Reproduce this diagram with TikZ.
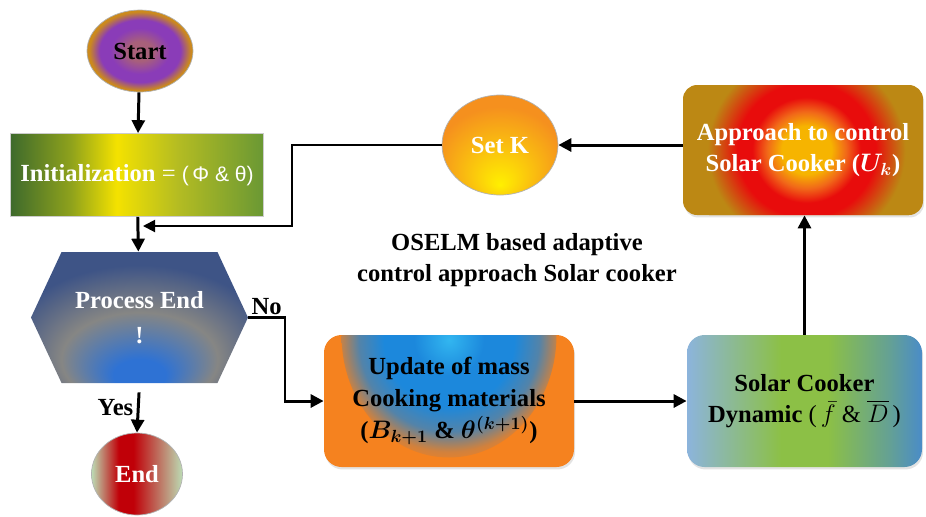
\documentclass[tikz,border=0pt]{standalone}
\usepackage{amsmath,bm}
\usepackage{fontspec}
\setmainfont{Liberation Serif}
\newfontfamily\grsans{Liberation Sans}
\usepackage{tikz}
\usetikzlibrary{arrows.meta,positioning,calc,shapes.geometric,shapes.symbols,shadows}

\definecolor{stmid}{HTML}{A8607A}
\definecolor{string}{HTML}{8A3CB8}
\definecolor{stout}{HTML}{CC8A1C}
\definecolor{gdark}{HTML}{3E6A2C}
\definecolor{gmid}{HTML}{8FA21C}
\definecolor{gyel}{HTML}{F4E200}
\definecolor{glite}{HTML}{B4BC22}
\definecolor{gright}{HTML}{6A9834}
\definecolor{hxblue}{HTML}{2E72D4}
\definecolor{hxgray}{HTML}{868684}
\definecolor{hxslate}{HTML}{3E5486}
\definecolor{endgreen}{HTML}{BCDCB4}
\definecolor{endred}{HTML}{C00008}
\definecolor{kyel}{HTML}{FFF000}
\definecolor{korange}{HTML}{F5901E}
\definecolor{apgold}{HTML}{BC8814}
\definecolor{apred}{HTML}{E80C0C}
\definecolor{apcore}{HTML}{F6B400}
\definecolor{updor}{HTML}{F5821F}
\definecolor{updblue}{HTML}{1C88DC}
\definecolor{updcyan}{HTML}{32B6F0}
\definecolor{dynblue}{HTML}{8CB4DC}
\definecolor{dyngreen}{HTML}{8CC046}
\definecolor{dynteal}{HTML}{4A8CC8}

% radial shadings: path edge sits at 25bp
\pgfdeclareradialshading{startshade}{\pgfpointorigin}{%
  color(0bp)=(stmid); color(6bp)=(stmid); color(14bp)=(string);
  color(19bp)=(string); color(24bp)=(stout); color(50bp)=(stout)}
\pgfdeclarehorizontalshading{initshade}{100bp}{%
  color(0bp)=(gdark); color(25bp)=(gdark); color(37bp)=(gmid);
  color(46bp)=(gyel); color(58bp)=(glite); color(75bp)=(gright);
  color(100bp)=(gright)}
\pgfdeclareradialshading{hexshade}{\pgfpoint{0bp}{-25bp}}{%
  color(0bp)=(hxblue); color(6bp)=(hxblue); color(18bp)=(hxgray);
  color(30bp)=(hxslate); color(50bp)=(hxslate)}
\pgfdeclarehorizontalshading{endshade}{100bp}{%
  color(0bp)=(endgreen); color(25bp)=(endgreen); color(40bp)=(endred);
  color(48bp)=(endred); color(75bp)=(endgreen); color(100bp)=(endgreen)}
\pgfdeclareradialshading{setkshade}{\pgfpoint{0bp}{-20bp}}{%
  color(0bp)=(kyel); color(11bp)=(kyel!60!korange); color(28bp)=(korange);
  color(50bp)=(korange)}
\pgfdeclareradialshading{apshade}{\pgfpointorigin}{%
  color(0bp)=(apcore); color(5bp)=(apcore); color(8bp)=(korange!70!apred);
  color(11bp)=(apred); color(14bp)=(apred); color(20bp)=(apgold);
  color(50bp)=(apgold)}
\pgfdeclareradialshading{updshade}{\pgfpointorigin}{%
  color(0bp)=(updcyan); color(7bp)=(updblue); color(13bp)=(updblue);
  color(18bp)=(updblue!45!gray); color(22bp)=(updor!70!gray);
  color(25bp)=(updor); color(50bp)=(updor)}
\pgfdeclarehorizontalshading{dynshade}{100bp}{%
  color(0bp)=(dynblue); color(25bp)=(dynblue); color(45bp)=(dyngreen);
  color(55bp)=(dyngreen); color(68bp)=(dynteal!60!dyngreen);
  color(75bp)=(dynteal); color(100bp)=(dynteal)}

\begin{document}
\begin{tikzpicture}[
  txt/.style={font=\fontsize{14}{18}\selectfont\bfseries, align=center},
  oval/.style={txt, ellipse, draw=gray!60, thin, inner sep=0pt},
  box/.style={txt, rounded corners=8pt, inner sep=0pt,
    drop shadow={opacity=0.22, shadow xshift=0.6pt, shadow yshift=-1.4pt}},
  arr/.style={-{Triangle[length=2.6mm,width=2.6mm]}, line width=1.7pt},
  fb/.style={-{Triangle[length=2.4mm,width=2.4mm]}, line width=1.1pt},
  lab/.style={txt, inner sep=1pt}
]
  \useasboundingbox (0,0) rectangle (18.52,-10.32);

  % left column
  \node[oval, shading=startshade, minimum width=2.12cm, minimum height=1.64cm]
    (start) at (2.80,-1.02) {Start};
  \node[txt, shading=initshade, text=white, draw=gray!40, thin,
    minimum width=5.06cm, minimum height=1.66cm]
    (init) at (2.74,-3.50)
    {Initialization {\mdseries =} {\grsans\mdseries\large (\,Φ \& θ)}};
  \node[txt, shape=signal, signal to=west and east, signal pointer angle=130,
    shading=hexshade, text=white, minimum width=4.34cm, minimum height=2.62cm,
    inner sep=0pt]
    (hex) at (2.79,-6.35) {Process End\\[2pt]!};
  \node[oval, shading=endshade, text=white, minimum width=1.82cm, minimum height=1.64cm]
    (end) at (2.74,-9.48) {End};

  % right part
  \node[oval, shading=setkshade, text=white, minimum width=2.32cm, minimum height=2.0cm]
    (setk) at (10.0,-2.90) {Set K};
  \node[box, fill=apgold, text=white, minimum width=4.80cm, minimum height=2.60cm,
    path picture={\shade[shading=apshade]
      ($(path picture bounding box.center)+(0.14,0)$) circle (2.4cm);}]
    (appr) at (16.06,-3.00) {Approach to control\\Solar Cooker ($\bm{U_k}$)};
  \node[box, rounded corners=10pt, fill=updor, minimum width=5.00cm, minimum height=2.64cm,
    path picture={\shade[shading=updshade]
      (path picture bounding box.north) ellipse (2.15cm and 2.45cm);}]
    (upd) at (8.98,-8.02)
    {Update of mass\\Cooking materials\\($\bm{B_{k+1}}$ \& $\bm{\theta^{(k+1)}}$)};
  \node[box, rounded corners=10pt, shading=dynshade, minimum width=4.70cm, minimum height=2.64cm]
    (dyn) at (16.09,-8.02)
    {Solar Cooker\\Dynamic {\mdseries(\,}$\bar{f}$ {\mdseries\&} $\overline{D}${\mdseries\,)}};

  \node[txt] (title) at (10.34,-5.20)
    {OSELM based adaptive\\control approach Solar cooker};

  \coordinate (fbk) at (5.84,-4.52);
  \coordinate (merge) at (2.86,-4.52);
  \coordinate (nob) at (5.70,-8.02);

  \draw[arr] (start) -- (init);
  \draw[arr] (init) -- (hex);
  \draw[fb] (setk.west) -| (fbk) -- (merge);
  \draw[arr] (hex.east) -| node[lab, pos=0.25, above]{No} (nob) -- (upd.west);
  \draw[arr, shorten <=0.18cm] (hex.south) -- node[lab, left=1pt]{Yes} (end.north);
  \draw[arr] (upd) -- (dyn);
  \draw[arr] (dyn.north) -- (dyn.north |- appr.south);
  \draw[arr] (appr.west |- setk.east) -- (setk.east);
\end{tikzpicture}
\end{document}
